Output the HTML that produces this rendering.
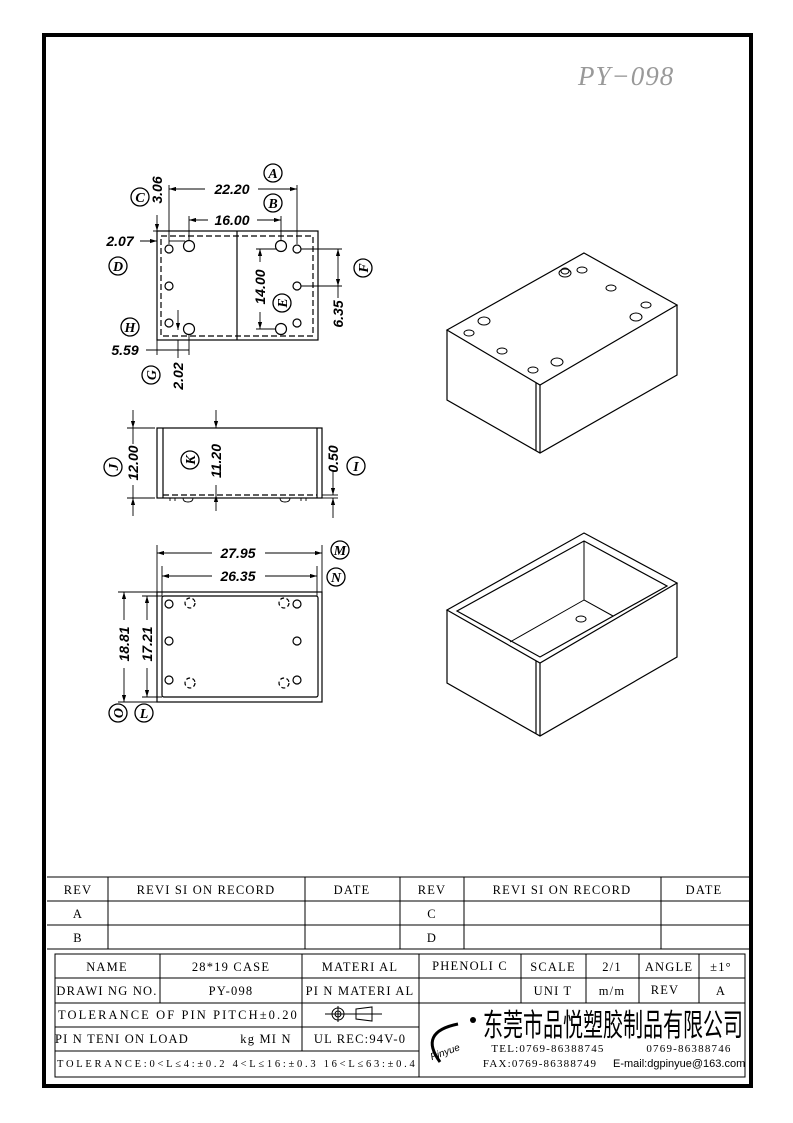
<!DOCTYPE html>
<html><head><meta charset="utf-8"><style>
html,body{margin:0;padding:0;background:#fff}
svg{display:block}
.d{font-family:"Liberation Sans",sans-serif;font-style:italic;font-weight:bold;font-size:14px}
.c{font-family:"Liberation Serif",serif;font-style:italic;font-size:14px;font-weight:bold}
.t{font-family:"Liberation Serif","Noto Serif CJK SC",serif;font-size:12.5px;letter-spacing:1.2px}
</style></head><body>
<svg width="793" height="1123" viewBox="0 0 793 1123" xmlns="http://www.w3.org/2000/svg">
<defs>
<marker id="a" viewBox="0 0 10 6" refX="10" refY="3" markerWidth="8" markerHeight="5" orient="auto-start-reverse"><path d="M0,0L10,3L0,6z" fill="#000"/></marker>
</defs>
<rect x="44" y="35" width="707" height="1051" fill="none" stroke="#000" stroke-width="4"/>
<text x="578" y="85" font-family="Liberation Serif,serif" font-style="italic" font-size="27" fill="#999" letter-spacing="1">PY−098</text>

<g fill="none" stroke="#000" stroke-width="1.2">
<rect x="157" y="231" width="161" height="109"/>
<rect x="161" y="236" width="152" height="100" stroke-dasharray="6,3"/>
<line x1="237" y1="231" x2="237" y2="340"/>
<circle cx="169" cy="249" r="4"/><circle cx="169" cy="286" r="4"/><circle cx="169" cy="323" r="4"/>
<circle cx="297" cy="249" r="4"/><circle cx="297" cy="286" r="4"/><circle cx="297" cy="323" r="4"/>
<circle cx="189" cy="246" r="5.5"/><circle cx="189" cy="329" r="5.5"/><circle cx="281" cy="246" r="5.5"/><circle cx="281" cy="329" r="5.5"/>
<g stroke-width="0.9">
<line x1="169" y1="185" x2="169" y2="244"/><line x1="297" y1="185" x2="297" y2="244"/>
<line x1="169" y1="189" x2="205" y2="189" marker-start="url(#a)"/><line x1="258" y1="189" x2="297" y2="189" marker-end="url(#a)"/>
<line x1="189" y1="216" x2="189" y2="240"/><line x1="281" y1="216" x2="281" y2="240"/>
<line x1="189" y1="220" x2="208" y2="220" marker-start="url(#a)"/><line x1="257" y1="220" x2="281" y2="220" marker-end="url(#a)"/>
<line x1="153" y1="231" x2="162" y2="231"/><line x1="157" y1="215" x2="157" y2="231" marker-end="url(#a)"/><line x1="157" y1="245" x2="157" y2="255"/>
<line x1="140" y1="241" x2="157" y2="241" marker-end="url(#a)"/><line x1="169" y1="241" x2="185" y2="241"/>
<line x1="256" y1="249" x2="276" y2="249"/><line x1="256" y1="329" x2="276" y2="329"/>
<line x1="260" y1="249" x2="260" y2="262" marker-start="url(#a)"/><line x1="260" y1="312" x2="260" y2="329" marker-end="url(#a)"/>
<line x1="301" y1="249" x2="342" y2="249"/><line x1="301" y1="286" x2="342" y2="286"/>
<line x1="338" y1="249" x2="338" y2="286" marker-start="url(#a)" marker-end="url(#a)"/><line x1="338" y1="286" x2="338" y2="298"/>
<line x1="157" y1="340" x2="157" y2="355"/><line x1="189" y1="335" x2="189" y2="355"/>
<line x1="146" y1="350" x2="189" y2="350"/>
<line x1="178" y1="310" x2="178" y2="330" marker-end="url(#a)"/><line x1="178" y1="340" x2="178" y2="358"/>
</g>
<rect x="157" y="428" width="165" height="70"/>
<line x1="163" y1="428" x2="163" y2="498"/><line x1="317" y1="428" x2="317" y2="498"/>
<line x1="163" y1="495" x2="317" y2="495" stroke-dasharray="6,3"/>
<path d="M170 498v3M175 498v3M301 498v3M306 498v3M183 498q0 4 5 4t5-4M280 498q0 4 5 4t5-4" stroke-width="0.9"/>
<g stroke-width="0.9">
<line x1="127" y1="428" x2="155" y2="428"/><line x1="127" y1="498" x2="155" y2="498"/>
<line x1="133" y1="410" x2="133" y2="428" marker-end="url(#a)"/><line x1="133" y1="516" x2="133" y2="498" marker-end="url(#a)"/><line x1="133" y1="428" x2="133" y2="444"/><line x1="133" y1="485" x2="133" y2="498"/>
<line x1="216" y1="410" x2="216" y2="428" marker-end="url(#a)"/><line x1="216" y1="511" x2="216" y2="495" marker-end="url(#a)"/><line x1="216" y1="485" x2="216" y2="495"/>
<line x1="322" y1="495" x2="338" y2="495"/><line x1="322" y1="498" x2="338" y2="498"/>
<line x1="333" y1="470" x2="333" y2="495" marker-end="url(#a)"/><line x1="333" y1="518" x2="333" y2="498" marker-end="url(#a)"/>
</g>
<rect x="157" y="592" width="165" height="110"/>
<rect x="162" y="596" width="156" height="101" rx="2"/>
<circle cx="169" cy="604" r="4"/><circle cx="169" cy="641" r="4"/><circle cx="169" cy="680" r="4"/>
<circle cx="297" cy="604" r="4"/><circle cx="297" cy="641" r="4"/><circle cx="297" cy="680" r="4"/>
<g stroke-dasharray="4,2.5"><circle cx="190" cy="603" r="5"/><circle cx="284" cy="603" r="5"/><circle cx="190" cy="683" r="5"/><circle cx="284" cy="683" r="5"/></g>
<g stroke-width="0.9">
<line x1="157" y1="545" x2="157" y2="592"/><line x1="322" y1="545" x2="322" y2="592"/>
<line x1="157" y1="553" x2="212" y2="553" marker-start="url(#a)"/><line x1="265" y1="553" x2="322" y2="553" marker-end="url(#a)"/>
<line x1="162" y1="566" x2="162" y2="596"/><line x1="317" y1="566" x2="317" y2="596"/>
<line x1="162" y1="576" x2="212" y2="576" marker-start="url(#a)"/><line x1="265" y1="576" x2="317" y2="576" marker-end="url(#a)"/>
<line x1="118" y1="592" x2="157" y2="592"/><line x1="118" y1="702" x2="157" y2="702"/>
<line x1="124" y1="592" x2="124" y2="620" marker-start="url(#a)"/><line x1="124" y1="668" x2="124" y2="702" marker-end="url(#a)"/>
<line x1="142" y1="596" x2="162" y2="596"/><line x1="142" y1="697" x2="162" y2="697"/>
<line x1="147" y1="596" x2="147" y2="620" marker-start="url(#a)"/><line x1="147" y1="668" x2="147" y2="697" marker-end="url(#a)"/>
</g>
<g stroke-width="1.3">
<circle cx="273" cy="173" r="9"/><circle cx="273" cy="203" r="9"/><circle cx="140" cy="197" r="9"/><circle cx="118" cy="266" r="9"/>
<circle cx="130" cy="327" r="9"/><circle cx="151" cy="375" r="9"/><circle cx="282" cy="303" r="9"/><circle cx="363" cy="268" r="9"/>
<circle cx="113" cy="467" r="9"/><circle cx="190" cy="460" r="9"/><circle cx="356" cy="466" r="9"/>
<circle cx="340" cy="550" r="9"/><circle cx="336" cy="577" r="9"/><circle cx="118" cy="713" r="9"/><circle cx="144" cy="713" r="9"/>
</g>
<path d="M584 253L677 305L540 385L447 330Z"/>
<path d="M447 330V400L540 453L677 375V305M540 385V453M536 383V451"/>
<g stroke-width="1">
<ellipse cx="565" cy="273" rx="6" ry="4"/><ellipse cx="565" cy="271" rx="4" ry="3"/><ellipse cx="582" cy="270" rx="5" ry="3"/>
<ellipse cx="611" cy="288" rx="5" ry="3"/><ellipse cx="646" cy="305" rx="5" ry="3"/><ellipse cx="636" cy="317" rx="6" ry="4"/>
<ellipse cx="484" cy="321" rx="6" ry="4"/><ellipse cx="469" cy="333" rx="5" ry="3"/><ellipse cx="502" cy="351" rx="5" ry="3"/>
<ellipse cx="533" cy="370" rx="5" ry="3"/><ellipse cx="557" cy="362" rx="6" ry="4"/>
</g>
<path d="M584 533L677 583L540 663L447 610Z"/>
<path d="M584 541L667 586L540 657L457 611Z"/>
<path d="M447 610V683L540 736L677 657V583M540 663V736M536 661V734"/>
<path d="M584 541V600L613 616M584 600L510 642" stroke-width="1"/>
<ellipse cx="581" cy="619" rx="5" ry="3" stroke-width="1"/>
</g>

<g class="d" text-anchor="middle">
<text x="232" y="194">22.20</text><text x="232" y="225">16.00</text>
<text x="120" y="246">2.07</text><text x="125" y="355">5.59</text>
<text transform="translate(162,190) rotate(-90)">3.06</text>
<text transform="translate(265,287) rotate(-90)">14.00</text>
<text transform="translate(343,314) rotate(-90)">6.35</text>
<text transform="translate(183,376) rotate(-90)">2.02</text>
<text transform="translate(138,463) rotate(-90)">12.00</text>
<text transform="translate(221,461) rotate(-90)">11.20</text>
<text transform="translate(338,459) rotate(-90)">0.50</text>
<text x="238" y="558">27.95</text><text x="238" y="581">26.35</text>
<text transform="translate(129,644) rotate(-90)">18.81</text>
<text transform="translate(152,644) rotate(-90)">17.21</text>
</g>
<g class="c" text-anchor="middle">
<text x="273" y="178">A</text><text x="273" y="208">B</text><text x="140" y="202">C</text><text x="118" y="271">D</text>
<text x="130" y="332">H</text><text transform="translate(156,375) rotate(-90)">G</text><text transform="translate(287,303) rotate(-90)">E</text><text transform="translate(368,268) rotate(-90)">F</text>
<text transform="translate(118,467) rotate(-90)">J</text><text transform="translate(195,460) rotate(-90)">K</text><text x="356" y="471">I</text>
<text x="340" y="555">M</text><text x="336" y="582">N</text><text transform="translate(123,713) rotate(-90)">O</text><text x="144" y="718">L</text>
</g>

<g fill="none" stroke="#000" stroke-width="1">
<path d="M47 877H751M47 901H751M47 925H751M47 949H751M108 877V949M305 877V949M400 877V949M464 877V949M661 877V949"/>
<rect x="55" y="954" width="690" height="123"/>
<path d="M55 978H745M55 1003H745M55 1027H419M55 1051H419M160 954V1003M302 954V1051M419 954V1077M521 954V1003M586 954V1003M639 954V1003M699 954V1003"/>
<circle cx="338" cy="1014" r="6"/><circle cx="338" cy="1014" r="3"/><path d="M325 1014H382M338 1006V1022M356 1009L372 1007V1021L356 1019Z"/>
<path d="M440 1062Q418 1032 458 1024" stroke-width="3"/>
</g>
<circle cx="473" cy="1020" r="3" fill="#000"/>
<g class="t" text-anchor="middle">
<text x="78" y="894">REV</text><text x="206" y="894">REVI SI ON RECORD</text><text x="352" y="894">DATE</text><text x="432" y="894">REV</text><text x="562" y="894">REVI SI ON RECORD</text><text x="704" y="894">DATE</text>
<text x="78" y="918">A</text><text x="78" y="942">B</text><text x="432" y="918">C</text><text x="432" y="942">D</text>
<text x="107" y="971">NAME</text><text x="231" y="971">28*19 CASE</text><text x="360" y="971">MATERI AL</text><text x="470" y="970">PHENOLI C</text><text x="553" y="971">SCALE</text><text x="612" y="971">2/1</text><text x="669" y="971">ANGLE</text><text x="721" y="971">±1°</text>
<text x="107" y="995">DRAWI NG NO.</text><text x="231" y="995">PY-098</text><text x="360" y="995">PI N MATERI AL</text><text x="553" y="995">UNI T</text><text x="612" y="995">m/m</text><text x="665" y="994">REV</text><text x="721" y="995">A</text>
<text x="178" y="1019" textLength="240">TOLERANCE OF PIN PITCH±0.20</text>
<text x="122" y="1043">PI N TENI ON LOAD</text><text x="266" y="1043">kg MI N</text><text x="360" y="1043">UL REC:94V-0</text>
<text x="236" y="1067" font-size="10.5" letter-spacing="0.3" textLength="358">TOLERANCE:0&lt;L≤4:±0.2  4&lt;L≤16:±0.3  16&lt;L≤63:±0.4</text>
<text x="548" y="1052" font-size="11">TEL:0769-86388745</text><text x="689" y="1052" font-size="11">0769-86388746</text>
<text x="540" y="1067" font-size="11">FAX:0769-86388749</text>
</g>
<text x="613" y="1067" font-family="Liberation Sans,sans-serif" font-size="11">E-mail:dgpinyue@163.com</text>
<text transform="translate(483,1036) scale(1,1.55)" font-family="Liberation Sans,'Noto Sans CJK SC',sans-serif" font-size="20" textLength="260" lengthAdjust="spacingAndGlyphs">东莞市品悦塑胶制品有限公司</text>
<text x="430" y="1056" font-family="Liberation Sans,sans-serif" font-style="italic" font-size="10" transform="rotate(-20 443 1053)">Pinyue</text>
</svg>
</body></html>
